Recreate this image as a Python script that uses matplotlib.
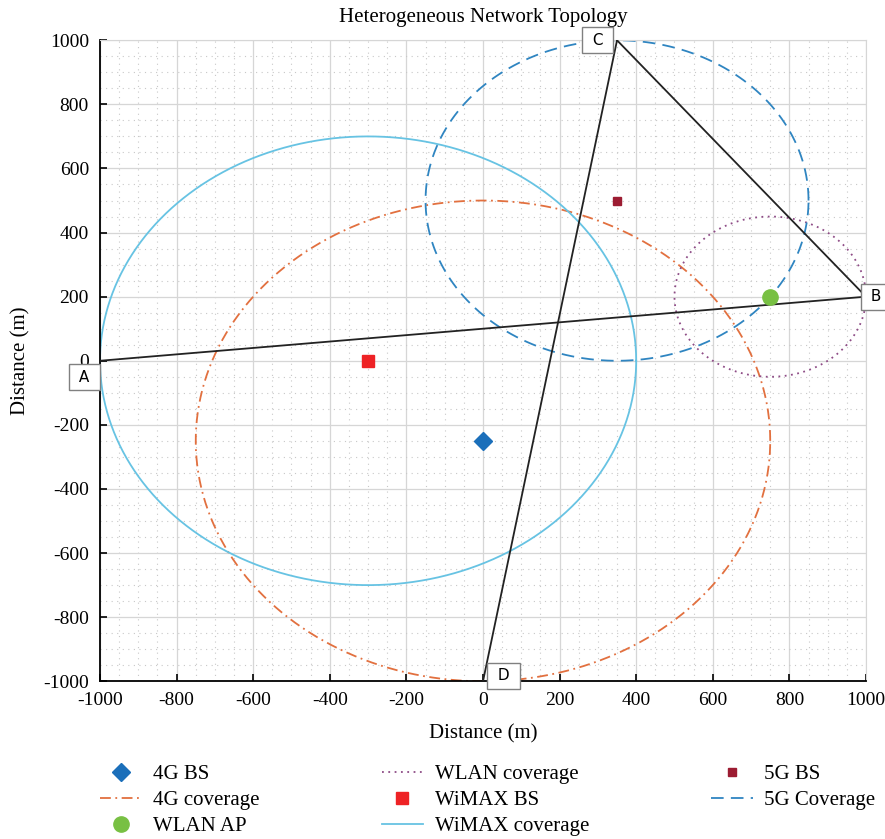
import numpy as np
import matplotlib.pyplot as plt
from matplotlib.ticker import MultipleLocator

plt.rcParams['font.family'] = ['Liberation Serif', 'DejaVu Serif']
plt.rcParams['axes.unicode_minus'] = False

# base stations / access points (x, y) in metres
bs_4g = (0, -250)
bs_wimax = (-300, 0)
bs_5g = (350, 500)
ap_wlan = (750, 200)

# coverage radii (m)
r_4g = 750
r_wimax = 700
r_5g = 500
r_wlan = 250

# user path through the points A -> B, C -> B, C -> D
nodes = {'A': (-1000, 0), 'B': (1000, 200), 'C': (350, 1000), 'D': (0, -1000)}
links = [('A', 'B'), ('C', 'B'), ('C', 'D')]


def circle(center, r, n=400):
    t = np.linspace(0, 2 * np.pi, n)
    return center[0] + r * np.cos(t), center[1] + r * np.sin(t)


fig = plt.figure(figsize=(8.85, 8.39), dpi=100)
ax = fig.add_axes([0.113, 0.188, 0.8655, 0.764])

ax.set_xlim(-1000, 1000)
ax.set_ylim(-1000, 1000)
ax.xaxis.set_major_locator(MultipleLocator(200))
ax.yaxis.set_major_locator(MultipleLocator(200))
ax.xaxis.set_minor_locator(MultipleLocator(50))
ax.yaxis.set_minor_locator(MultipleLocator(50))
ax.grid(which='major', color='#d6d6d6', lw=0.9)
ax.grid(which='minor', color='#c8c8c8', lw=0.8, ls=(0, (1, 4)))
ax.set_axisbelow(True)
ax.tick_params(which='major', direction='in', length=5, width=1.2, labelsize=14,
               pad=8, top=False, right=False)
ax.tick_params(which='minor', length=0)
for s in ['top', 'right']:
    ax.spines[s].set_color('#d6d6d6')
for s in ['left', 'bottom']:
    ax.spines[s].set_linewidth(1.3)

# paths between the labelled points
for a, b in links:
    ax.plot([nodes[a][0], nodes[b][0]], [nodes[a][1], nodes[b][1]],
            color='#222222', lw=1.3, zorder=3)

h_4g, = ax.plot(*bs_4g, marker='D', ms=9, color='#1b6fba', ls='none', label='4G BS', zorder=5)
h_4gc, = ax.plot(*circle(bs_4g, r_4g), color='#e2703f', lw=1.3, ls=(0, (6, 2.5, 1, 2.5)),
                 label='4G coverage')
h_ap, = ax.plot(*ap_wlan, marker='o', ms=11, color='#78c043', ls='none', label='WLAN AP', zorder=5)
h_wlc, = ax.plot(*circle(ap_wlan, r_wlan), color='#8e4c86', lw=1.3, ls=(0, (1, 2.5)),
                 label='WLAN coverage')
h_wm, = ax.plot(*bs_wimax, marker='s', ms=9, color='#ee2225', ls='none', label='WiMAX BS', zorder=5)
h_wmc, = ax.plot(*circle(bs_wimax, r_wimax), color='#67c3e3', lw=1.3, label='WiMAX coverage')
h_5g, = ax.plot(*bs_5g, marker='s', ms=6, color='#9c1c32', ls='none', label='5G BS', zorder=5)
h_5gc, = ax.plot(*circle(bs_5g, r_5g), color='#2f85c1', lw=1.3, ls=(0, (7, 4)),
                 label='5G Coverage')

# boxed point labels
box = dict(boxstyle='square,pad=0.35', fc='white', ec='#808080', lw=1)
offsets = {'A': (-4, -6.5, 'right', 'top'), 'B': (0, 0, 'left', 'center'),
           'C': (-6.5, 0, 'right', 'center'), 'D': (7, 4, 'left', 'center')}
for k, (x, y) in nodes.items():
    dx, dy, ha, va = offsets[k]
    ax.annotate(' ' + k + ' ', (x, y), xytext=(dx, dy), textcoords='offset points',
                ha=ha, va=va, fontsize=11, family='DejaVu Sans', bbox=box,
                annotation_clip=False, zorder=6)

ax.set_title('Heterogeneous Network Topology', fontsize=15, pad=13)
ax.set_xlabel('Distance (m)', fontsize=15, labelpad=11)
ax.set_ylabel('Distance (m)', fontsize=15, labelpad=9)

handles = [h_4g, h_4gc, h_ap, h_wlc, h_wm, h_wmc, h_5g, h_5gc]
fig.legend(handles=handles, loc='upper left', bbox_to_anchor=(0.113, 0.089), ncol=3,
           frameon=False, fontsize=15, columnspacing=5.85, handlelength=2.0,
           handletextpad=0.55, labelspacing=0.32, borderaxespad=0, borderpad=0)

fig.savefig('out.png', dpi=100)
